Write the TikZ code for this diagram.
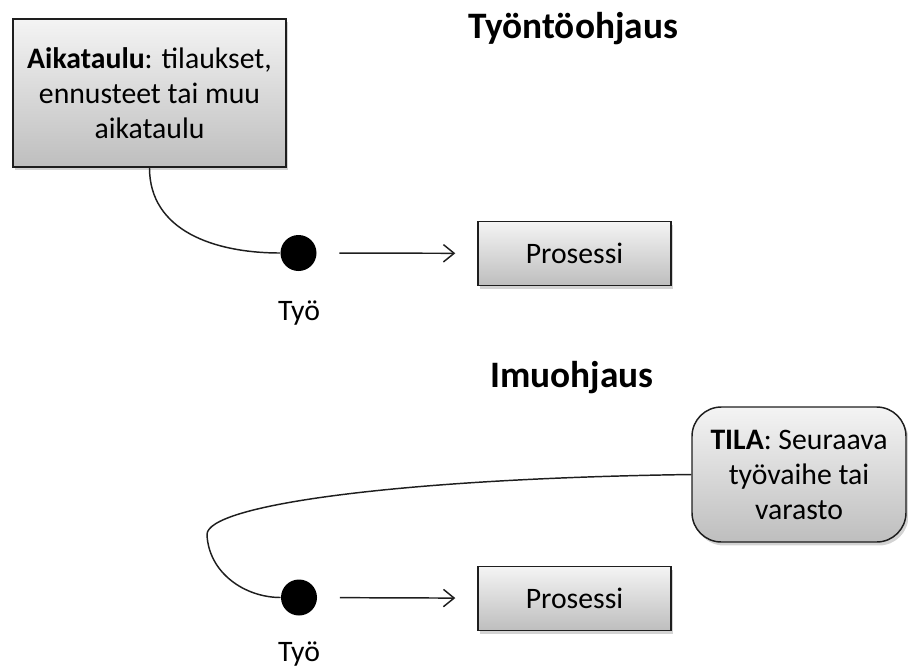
\documentclass[tikz,border=0pt]{standalone}
\usepackage{fontspec}
\setmainfont{Carlito}
\usetikzlibrary{arrows.meta,shadows}

\definecolor{boxtop}{RGB}{244,244,244}
\definecolor{boxbottom}{RGB}{190,190,190}
\definecolor{edge}{RGB}{30,30,30}

\tikzset{
  bodyfont/.style={font=\fontsize{22.3}{26.25}\selectfont},
  titlefont/.style={font=\fontsize{28}{34}\selectfont\bfseries},
  greybox/.style={draw=edge, line width=1.1pt, top color=boxtop, bottom color=boxbottom,
    drop shadow={shadow xshift=1.8pt, shadow yshift=-2.6pt, opacity=0.35},
    align=center, inner sep=0pt, bodyfont},
  procbox/.style={greybox, minimum width=144.75pt, minimum height=48pt},
  workdot/.style={circle, fill=black, draw=none, minimum size=27pt, inner sep=0pt},
  link/.style={line width=1.1pt, draw=edge},
  flow/.style={line width=1.1pt, draw=edge, -{Straight Barb[length=8pt,width=13pt,line width=1.1pt]},
    shorten <=17pt, shorten >=16.5pt},
  caption/.style={anchor=base, bodyfont, inner sep=0pt},
  heading/.style={anchor=base, titlefont, inner sep=0pt}
}

\begin{document}
\begin{tikzpicture}[x=0.75pt, y=-0.75pt]
  \useasboundingbox (0,0) rectangle (908,669);

  % --- push control ---
  \node[heading] (pushtitle) at (573,38) {Työntöohjaus};

  \node[greybox, minimum width=204.75pt, minimum height=111pt] (sched) at (149.5,93)
    {\textbf{Aikataulu}: tilaukset,\\ ennusteet tai muu\\ aikataulu};

  \node[workdot] (dot1) at (298.5,253) {};
  \node[caption] (work1) at (299,320) {Työ};
  \node[procbox] (proc1) at (574.5,253.5) {Prosessi};

  \draw[link] (sched.south) .. controls +(0,63) and +(-66,0) .. (dot1.west);
  \draw[flow] (dot1) -- (proc1);

  % --- pull control ---
  \node[heading] (pulltitle) at (572,387) {Imuohjaus};

  \node[greybox, rounded corners=22pt, minimum width=160.5pt, minimum height=101.25pt] (state) at (799,474.5)
    {\textbf{TILA}: Seuraava\\ työvaihe tai\\ varasto};

  \node[workdot] (dot2) at (299,597.5) {};
  \node[caption] (work2) at (299,661) {Työ};
  \node[procbox] (proc2) at (574.5,598.5) {Prosessi};

  \coordinate (turn) at (207,535);
  \draw[link] (state.west) .. controls +(-292,4) and +(-2,-30) .. (turn)
    .. controls +(2,38) and +(-36,0) .. (dot2.west);
  \draw[flow] (dot2) -- (proc2);
\end{tikzpicture}
\end{document}
